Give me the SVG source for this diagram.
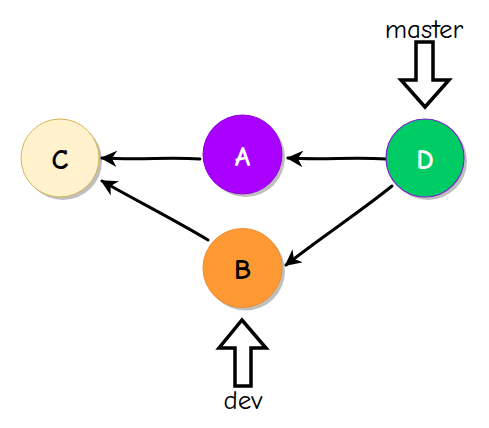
<svg xmlns="http://www.w3.org/2000/svg" width="489" height="428" viewBox="0 0 489 428">
<style>
.lbl{font-family:"Comic Sans MS","Comic Neue","DejaVu Sans",sans-serif;font-size:28px;font-weight:bold;text-anchor:middle;dominant-baseline:central}
.shadow{fill:#000;opacity:0.25}
.edge{fill:none;stroke:#000;stroke-width:3;stroke-linecap:round;stroke-linejoin:round}
.block{fill:#fff;stroke:#000;stroke-width:3.5;stroke-linejoin:miter}
.tag{font-family:"Comic Sans MS","Comic Neue","DejaVu Sans",sans-serif;font-size:27px;text-anchor:middle}
</style>
<defs>
<marker id="ah" viewBox="0 0 10 10" refX="9" refY="5" markerWidth="5.5" markerHeight="5.5" orient="auto" markerUnits="strokeWidth">
<path d="M0,0 L10,5 L0,10 L3,5 Z" fill="#000"/>
</marker>
</defs>
<g id="edges">
<path class="edge" d="M200,159 C170,157 140,160 102,158" marker-end="url(#ah)"/>
<path class="edge" d="M386,159 C355,157 320,160 288,158" marker-end="url(#ah)"/>
<path class="edge" d="M392,186 C360,212 320,238 286,265" marker-end="url(#ah)"/>
<path class="edge" d="M208,240 C175,220 135,200 102,181" marker-end="url(#ah)"/>
</g>
<g id="node-C">
<circle class="shadow" cx="63" cy="161" r="39"/>
<circle cx="60" cy="158" r="39" fill="#fff2cc" stroke="#d6b656" stroke-width="1"/>
<text class="lbl" x="60" y="160" fill="#000">C</text>
</g>
<g id="node-A">
<circle class="shadow" cx="245.5" cy="157.5" r="39.5"/>
<circle cx="242.5" cy="154.5" r="39.5" fill="#aa00ff" stroke="#9000dd" stroke-width="1"/>
<text class="lbl" x="242.5" y="157" fill="#fff">A</text>
</g>
<g id="node-D">
<circle class="shadow" cx="428" cy="161" r="39"/>
<circle cx="425" cy="158" r="39" fill="#00cc66" stroke="#7a1fc9" stroke-width="1.2"/>
<text class="lbl" x="425" y="160" fill="#fff">D</text>
</g>
<g id="node-B">
<circle class="shadow" cx="245.5" cy="271" r="39.5"/>
<circle cx="242.5" cy="268" r="39.5" fill="#ff9933" stroke="#f08a2a" stroke-width="1"/>
<text class="lbl" x="242.5" y="270" fill="#000">B</text>
</g>
<g id="master">
<path class="block" d="M416,42 L433,42 L433,80 L449,80 L425,107 L401,80 L416,80 Z"/>
<text class="tag" x="424" y="38">master</text>
</g>
<g id="dev">
<path class="block" d="M235,386 L251,386 L251,348 L266,348 L242,320 L219,348 L235,348 Z"/>
<text class="tag" x="243" y="409">dev</text>
</g>
</svg>
